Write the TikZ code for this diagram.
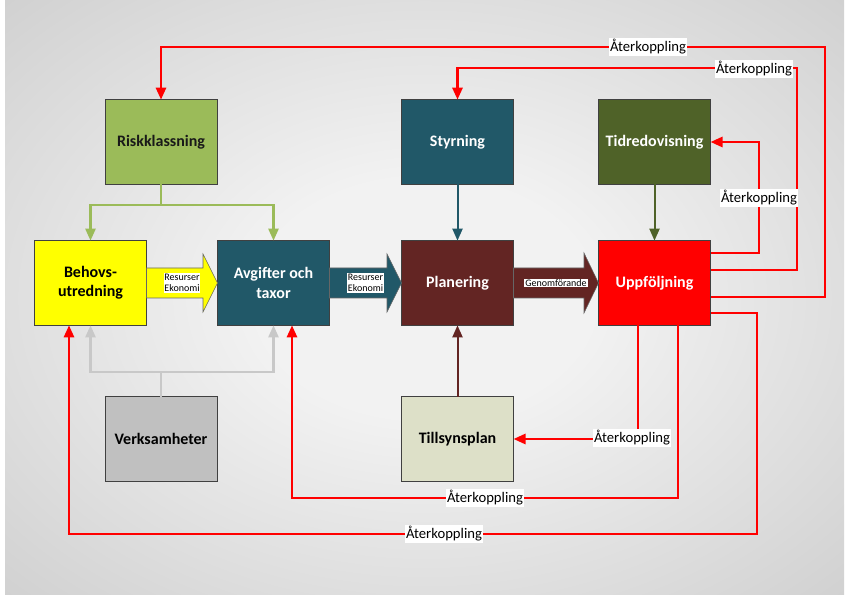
\documentclass[tikz,border=0pt]{standalone}
\usepackage{fontspec}
\setmainfont{Carlito}
\usetikzlibrary{arrows.meta,calc}
\definecolor{cRisk}{HTML}{9BBB59}
\definecolor{cTeal}{HTML}{215868}
\definecolor{cOlive}{HTML}{4F6228}
\definecolor{cBrown}{HTML}{632523}
\definecolor{cRed}{HTML}{FF0000}
\definecolor{cYel}{HTML}{FFFF00}
\definecolor{cGrey}{HTML}{C0C0C0}
\definecolor{cTill}{HTML}{DDE0C8}
\definecolor{cGconn}{HTML}{C8C8C8}
\definecolor{bgA}{HTML}{F2F2F2}
\definecolor{bgB}{HTML}{BEBEBE}
\definecolor{bgC}{HTML}{ADADAD}
\pgfdeclareradialshading{bgshade}{\pgfpoint{0bp}{0bp}}{color(0bp)=(bgA); color(10bp)=(bgA); color(50bp)=(bgB); color(72bp)=(bgC)}
\begin{document}
\begin{tikzpicture}[x=0.75pt,y=-0.75pt,
  box/.style={draw=black!75,line width=0.6pt,minimum width=84pt,minimum height=63.5pt,inner sep=2pt,outer sep=0pt,font=\fontsize{12}{14.5}\selectfont\bfseries,align=center},
  fb/.style={draw=cRed,line width=2pt},
  arr/.style={-{Triangle[length=9pt,width=7.5pt]}},
  lbl/.style={fill=white,inner sep=1pt,font=\fontsize{11}{12}\selectfont},
  small/.style={fill=white,inner sep=0.6pt,font=\fontsize{7.5}{8.5}\selectfont,align=left},
  blk/.style={draw=black!60,line width=0.4pt}
]
\useasboundingbox (0,0) rectangle (850,595);
\fill[white] (0,0) rectangle (850,595);
\shade[shading=bgshade] (5,1) rectangle (844,595);

% boxes
\node[box,fill=cRisk,text=black!90] (risk) at (161,142) {Riskklassning};
\node[box,fill=cTeal,text=white] (styr) at (457.5,142) {Styrning};
\node[box,fill=cOlive,text=white] (tid) at (654.5,142) {Tidredovisning};
\node[box,fill=cYel,text=black] (behov) at (90.5,283) {Behovs-\\utredning};
\node[box,fill=cTeal,text=white] (avg) at (273.5,283) {Avgifter och\\taxor};
\node[box,fill=cBrown,text=white] (plan) at (457.5,283) {Planering};
\node[box,fill=cRed,text=white] (upp) at (654.5,283) {Uppföljning};
\node[box,fill=cGrey,text=black] (verk) at (161,439) {Verksamheter};
\node[box,fill=cTill,text=black] (till) at (457.5,439) {Tillsynsplan};

% block arrows
\filldraw[blk,fill=cYel] (behov.east |- 0,268) -- (203,268) -- (203,254) -- (avg.west) -- (203,312) -- (203,298) -- (behov.east |- 0,298) -- cycle;
\filldraw[blk,fill=cTeal] (avg.east |- 0,268) -- (387,268) -- (387,254) -- (plan.west) -- (387,312) -- (387,298) -- (avg.east |- 0,298) -- cycle;
\filldraw[blk,fill=cBrown] (plan.east |- 0,268) -- (584,268) -- (584,253) -- (upp.west) -- (584,313) -- (584,298) -- (plan.east |- 0,298) -- cycle;
\node[small] (r1) at (182,283) {Resurser\\Ekonomi};
\node[small] (r2) at (365.5,283) {Resurser\\Ekonomi};
\node[small] (g1) at (556,283) {Genomförande};

% green connectors
\draw[cRisk,line width=1.8pt,arr] (risk.south) -- (161,205) -| (behov.north);
\draw[cRisk,line width=1.8pt,arr] (161,205) -| (avg.north);
% grey connectors
\draw[cGconn,line width=1.8pt,arr] (verk.north) -- (161,372) -| (behov.south);
\draw[cGconn,line width=1.8pt,arr] (161,372) -| (avg.south);
% vertical connectors
\draw[cTeal,line width=1.5pt,arr] (styr.south) -- (plan.north);
\draw[cOlive,line width=1.5pt,arr] (tid.south) -- (upp.north);
\draw[cBrown,line width=1.5pt,arr] (till.north) -- (plan.south);

% feedback lines
\draw[fb,arr] (upp.east |- 0,297) -| (825,47) -| (risk.north);
\draw[fb,arr] (upp.east |- 0,270) -| (797,68) -| (styr.north);
\draw[fb,arr] (upp.east |- 0,253) -| (759,142) -- (tid.east);
\draw[fb,arr] (upp.south -| 638,0) |- (till.east);
\draw[fb,arr] (upp.south -| 678,0) |- (292,498) -- (avg.south -| 292,0);
\draw[fb,arr] (upp.east |- 0,313) -| (757,534) -| (behov.south -| 69,0);

\node[lbl] (a1) at (648,47) {Återkoppling};
\node[lbl] (a2) at (754,69) {Återkoppling};
\node[lbl] (a3) at (759,198) {Återkoppling};
\node[lbl] (a4) at (632,438) {Återkoppling};
\node[lbl] (a5) at (485,498) {Återkoppling};
\node[lbl] (a6) at (444,534) {Återkoppling};
\end{tikzpicture}
\end{document}
